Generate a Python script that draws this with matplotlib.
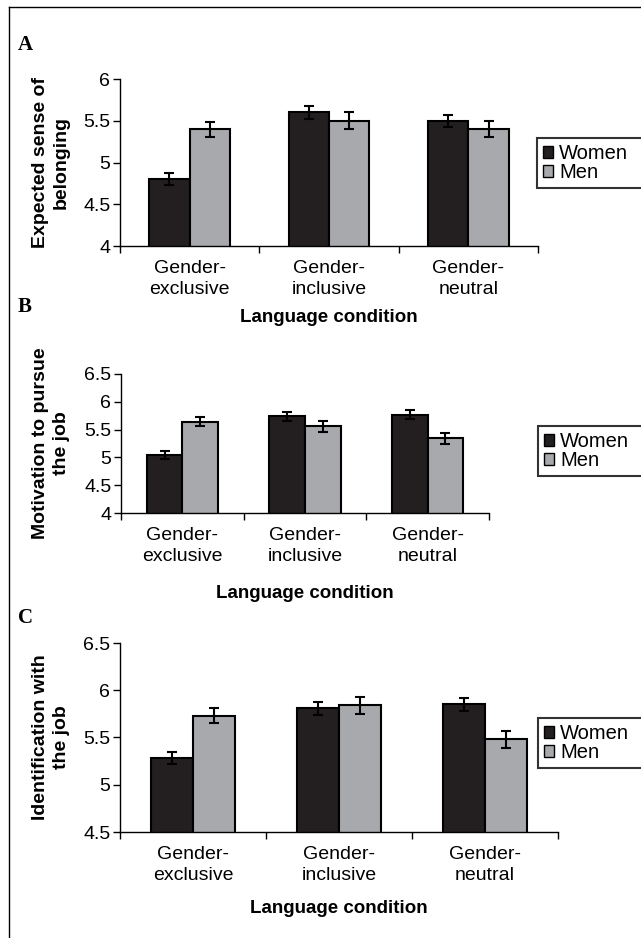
import numpy as np
import matplotlib
matplotlib.use('Agg')
import matplotlib.pyplot as plt
from matplotlib.lines import Line2D
from matplotlib.patches import Patch

plt.rcParams['font.family'] = ['Liberation Sans', 'DejaVu Sans']

conditions = ['Gender-\nexclusive', 'Gender-\ninclusive', 'Gender-\nneutral']

# panel A: expected sense of belonging
a_women = [4.80, 5.60, 5.50]
a_men = [5.40, 5.50, 5.40]
a_women_err = [0.07, 0.08, 0.07]
a_men_err = [0.09, 0.10, 0.10]

# panel B: motivation to pursue the job
b_women = [5.05, 5.74, 5.77]
b_men = [5.64, 5.56, 5.34]
b_women_err = [0.07, 0.08, 0.08]
b_men_err = [0.08, 0.10, 0.10]

# panel C: identification with the job
c_women = [5.28, 5.81, 5.85]
c_men = [5.73, 5.84, 5.48]
c_women_err = [0.065, 0.07, 0.07]
c_men_err = [0.08, 0.09, 0.09]

W, H = 641, 938
women_col = '#231f20'
men_col = '#a7a9ac'

fig = plt.figure(figsize=(W/100, H/100), dpi=100)

def px(x0, y0, x1, y1):
    # pixel box -> figure fraction rect
    return [x0/W, 1-y1/H, (x1-x0)/W, (y1-y0)/H]

panels = [
    ('A', px(120, 79, 538, 246), a_women, a_men, a_women_err, a_men_err,
     (4, 6), [4, 4.5, 5, 5.5, 6], 'Expected sense of\nbelonging', 45, 318, (537, 138, 183)),
    ('B', px(121, 374, 489, 513), b_women, b_men, b_women_err, b_men_err,
     (4, 6.5), [4, 4.5, 5, 5.5, 6, 6.5], 'Motivation to pursue\nthe job', 307, 593, (538, 426, 470)),
    ('C', px(120, 643, 558, 832), c_women, c_men, c_women_err, c_men_err,
     (4.5, 6.5), [4.5, 5, 5.5, 6, 6.5], 'Identification with\nthe job', 618, 908, (538, 718, 765)),
]

x = np.arange(len(conditions))
bw = 0.29
for letter, rect, wv, mv, we, me, ylim, yt, ylab, ly, xly, legpos in panels:
    ax = fig.add_axes(rect)
    ax.bar(x - bw/2, wv, bw, color=women_col, edgecolor='black', linewidth=1.5, zorder=2)
    ax.bar(x + bw/2, mv, bw, color=men_col, edgecolor='black', linewidth=1.5, zorder=2)
    ax.errorbar(x - bw/2, wv, yerr=we, fmt='none', ecolor='black', elinewidth=1.5,
                capsize=3.5, capthick=1.5, zorder=3)
    ax.errorbar(x + bw/2, mv, yerr=me, fmt='none', ecolor='black', elinewidth=1.5,
                capsize=3.5, capthick=1.5, zorder=3)
    ax.set_xlim(-0.5, 2.5)
    ax.set_ylim(*ylim)
    ax.set_yticks(yt)
    ax.set_yticklabels([('%g' % v) for v in yt])
    ax.set_xticks(x)
    ax.set_xticklabels(conditions, fontsize=14, linespacing=1.3)
    ax.set_xticks(np.arange(-0.5, 3, 1), minor=True)
    ax.tick_params(axis='x', which='major', length=0, pad=10)
    ax.tick_params(axis='x', which='minor', length=5, width=1, direction='out')
    ax.tick_params(axis='y', labelsize=14, length=5, width=1, pad=2)
    for s in ['top', 'right']:
        ax.spines[s].set_visible(False)
    for s in ['left', 'bottom']:
        ax.spines[s].set_linewidth(1)
    ax.patch.set_alpha(0)

    # y label, letter, x label
    fig.text(51/W, rect[1] + rect[3]/2, ylab, rotation=90, ha='center', va='center',
             fontsize=14, fontweight='bold', multialignment='center', linespacing=1.3)
    fig.text(18/W, 1-ly/H, letter, ha='left', va='center', fontsize=15,
             fontweight='bold', family='Liberation Serif')
    fig.text(rect[0] + rect[2]/2, 1-xly/H, 'Language condition', ha='center', va='center',
             fontsize=13.5, fontweight='bold')

    handles = [Patch(facecolor=women_col, edgecolor='black', linewidth=1),
               Patch(facecolor=men_col, edgecolor='black', linewidth=1)]
    lx, ltop, lbot = legpos
    leg = fig.legend(handles, ['Women', 'Men'], loc='upper left', mode='expand',
                     bbox_to_anchor=(lx/W, 1-lbot/H, 130/W, (lbot-ltop)/H), fontsize=14.5,
                     frameon=True, fancybox=False, edgecolor='black',
                     handlelength=0.5, handleheight=0.5, handletextpad=0.3,
                     labelspacing=0.0, borderpad=0.3, borderaxespad=0)
    leg.get_frame().set_linewidth(1.5)

# outer frame (left and top)
fig.add_artist(Line2D([9/W, 9/W], [0, 1-7/H], color='black', linewidth=1))
fig.add_artist(Line2D([9/W, 1], [1-7/H, 1-7/H], color='black', linewidth=1))

fig.savefig('out.png', dpi=100)
